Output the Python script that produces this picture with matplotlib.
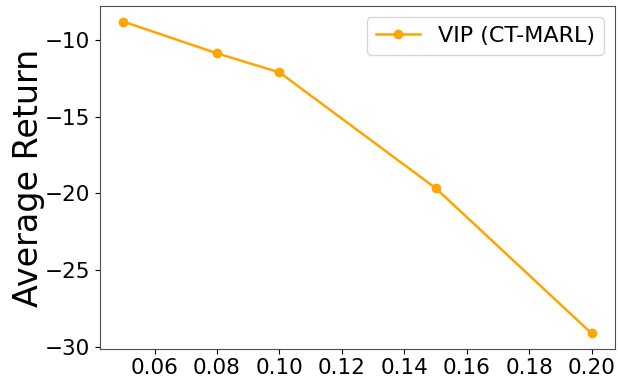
import matplotlib
matplotlib.use("Agg")
import matplotlib.pyplot as plt

# noise level vs. average return
noise = [0.05, 0.08, 0.10, 0.15, 0.20]
avg_return = [-8.80, -10.87, -12.11, -19.65, -29.13]
x_ticks = [0.06, 0.08, 0.10, 0.12, 0.14, 0.16, 0.18, 0.20]

fig = plt.figure(figsize=(6.18, 3.77), dpi=100)
ax = fig.add_axes([0.1618, 0.0743, 0.8333, 0.9097])
ax.plot(noise, avg_return, color='orange', marker='o', markersize=6,
        linewidth=1.8, label='VIP (CT-MARL)')

ax.set_xticks(x_ticks)
ax.set_xticklabels([f'{t:.2f}' for t in x_ticks])
ax.set_ylabel('Average Return', fontsize=24, labelpad=0)
ax.tick_params(axis='both', labelsize=15.5)
ax.tick_params(axis='x', pad=3)
for s in ax.spines.values():
    s.set_color('0.3')
ax.legend(loc='upper right', fontsize=16)

fig.savefig('out.png', dpi=100)
